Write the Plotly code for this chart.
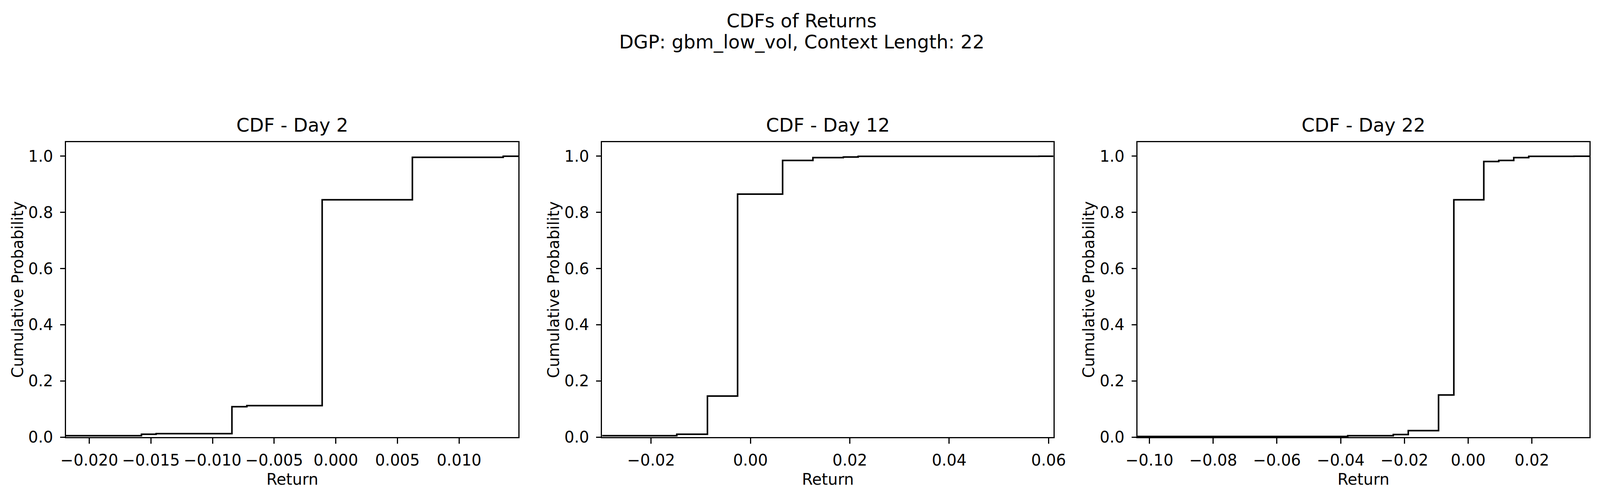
import plotly.graph_objects as go

# ---- data ----
day2_x = [-0.02189, -0.01577, -0.01458, -0.00843, -0.00722, -0.00111, 0.00621, 0.01358, 0.01481]
day2_y = [0.005, 0.010, 0.012, 0.108, 0.112, 0.845, 0.996, 1.0, 1.0]

day12_x = [-0.02986, -0.01483, -0.00866, -0.00259, 0.00647, 0.01257, 0.0187, 0.02168, 0.05807, 0.06097]
day12_y = [0.005, 0.010, 0.146, 0.865, 0.985, 0.995, 0.997, 0.9995, 1.0, 1.0]

day22_x = [-0.10376, -0.0378, -0.0235, -0.0188, -0.0093, -0.0045, 0.0049, 0.0096, 0.0143, 0.0190, 0.0332, 0.03805]
day22_y = [0.002, 0.005, 0.009, 0.023, 0.150, 0.845, 0.981, 0.985, 0.995, 0.9995, 1.0, 1.0]

titles = ["CDF - Day 2", "CDF - Day 12", "CDF - Day 22"]
x_ranges = [[-0.02189, 0.01481], [-0.02986, 0.06097], [-0.10376, 0.03805]]

day2_ticks = [-0.020, -0.015, -0.010, -0.005, 0.000, 0.005, 0.010]
day2_ticklabels = ["\u22120.020", "\u22120.015", "\u22120.010", "\u22120.005", "0.000", "0.005", "0.010"]
day12_ticks = [-0.02, 0.00, 0.02, 0.04, 0.06]
day12_ticklabels = ["\u22120.02", "0.00", "0.02", "0.04", "0.06"]
day22_ticks = [-0.10, -0.08, -0.06, -0.04, -0.02, 0.00, 0.02]
day22_ticklabels = ["\u22120.10", "\u22120.08", "\u22120.06", "\u22120.04", "\u22120.02", "0.00", "0.02"]
y_ticks = [0.0, 0.2, 0.4, 0.6, 0.8, 1.0]
y_ticklabels = ["0.0", "0.2", "0.4", "0.6", "0.8", "1.0"]

x_title = "Return"
y_title = "Cumulative Probability"
suptitle_1 = "CDFs of Returns"
suptitle_2 = "DGP: gbm_low_vol, Context Length: 22"

# ---- layout geometry (browser viewport is 4096 wide; page body has an 8px margin) ----
W, H = 4088, 1267
MT, MB = 356, 156
ML, MR = 160.6, 26.6
domains = [[0.0, 0.29694], [0.35190, 0.64812], [0.70332, 1.0]]

FONT = "DejaVu Sans"
LW = 3.3
TICK_SIZE = 40
TITLE_SIZE = 48

fig = go.Figure()

series = [(day2_x, day2_y), (day12_x, day12_y), (day22_x, day22_y)]
ticks = [(day2_ticks, day2_ticklabels), (day12_ticks, day12_ticklabels), (day22_ticks, day22_ticklabels)]

for i, (xs, ys) in enumerate(series):
    suffix = "" if i == 0 else str(i + 1)
    fig.add_trace(go.Scatter(
        x=xs, y=ys, mode="lines", line=dict(color="black", width=4.0, shape="hv"),
        xaxis="x" + suffix, yaxis="y" + suffix, showlegend=False, hoverinfo="skip",
    ))
    common = dict(
        showline=True, mirror=True, linecolor="black", linewidth=LW,
        ticks="outside", tickwidth=LW, tickcolor="black",
        showgrid=False, zeroline=False,
        tickfont=dict(family=FONT, size=TICK_SIZE, color="black"),
    )
    xa = dict(common)
    xa.update(domain=domains[i], range=x_ranges[i], ticklen=14, ticklabelstandoff=8,
              tickmode="array", tickvals=ticks[i][0], ticktext=ticks[i][1],
              anchor="y" + suffix)
    ya = dict(common)
    ya.update(domain=[0, 1], range=[0, 1.05], ticklen=12, ticklabelstandoff=10,
              tickmode="array", tickvals=y_ticks, ticktext=y_ticklabels,
              anchor="x" + suffix)
    fig.update_layout(**{"xaxis" + suffix: xa, "yaxis" + suffix: ya})

annotations = []
for i, t in enumerate(titles):
    xc_i = (domains[i][0] + domains[i][1]) / 2
    annotations.append(dict(
        text=t, x=xc_i, y=1.0, xref="paper", yref="paper",
        xanchor="center", yanchor="middle", yshift=44, showarrow=False,
        font=dict(family=FONT, size=TITLE_SIZE, color="black"),
    ))
    annotations.append(dict(
        text=x_title, x=xc_i, y=0.0, xref="paper", yref="paper",
        xanchor="center", yanchor="middle", yshift=-108, showarrow=False,
        font=dict(family=FONT, size=TICK_SIZE, color="black"),
    ))
    annotations.append(dict(
        text=y_title, x=domains[i][0], y=0.5, xref="paper", yref="paper",
        xanchor="center", yanchor="middle", xshift=-125, textangle=-90, showarrow=False,
        font=dict(family=FONT, size=TICK_SIZE, color="black"),
    ))

plot_h = H - MT - MB
xc = (W / 2 - ML) / (W - ML - MR)
annotations.append(dict(
    text=suptitle_1, x=xc, y=(H - MB - 45) / plot_h, xref="paper", yref="paper",
    xanchor="center", yanchor="middle", showarrow=False,
    font=dict(family=FONT, size=TITLE_SIZE, color="black"),
))
annotations.append(dict(
    text=suptitle_2, x=xc, y=(H - MB - 99) / plot_h, xref="paper", yref="paper",
    xanchor="center", yanchor="middle", showarrow=False,
    font=dict(family=FONT, size=TITLE_SIZE, color="black"),
))

fig.update_layout(
    width=W, height=H,
    margin=dict(l=ML, r=MR, t=MT, b=MB, autoexpand=False),
    paper_bgcolor="white", plot_bgcolor="white",
    annotations=annotations,
    font=dict(family=FONT, color="black"),
)

fig.write_html("out.html")
